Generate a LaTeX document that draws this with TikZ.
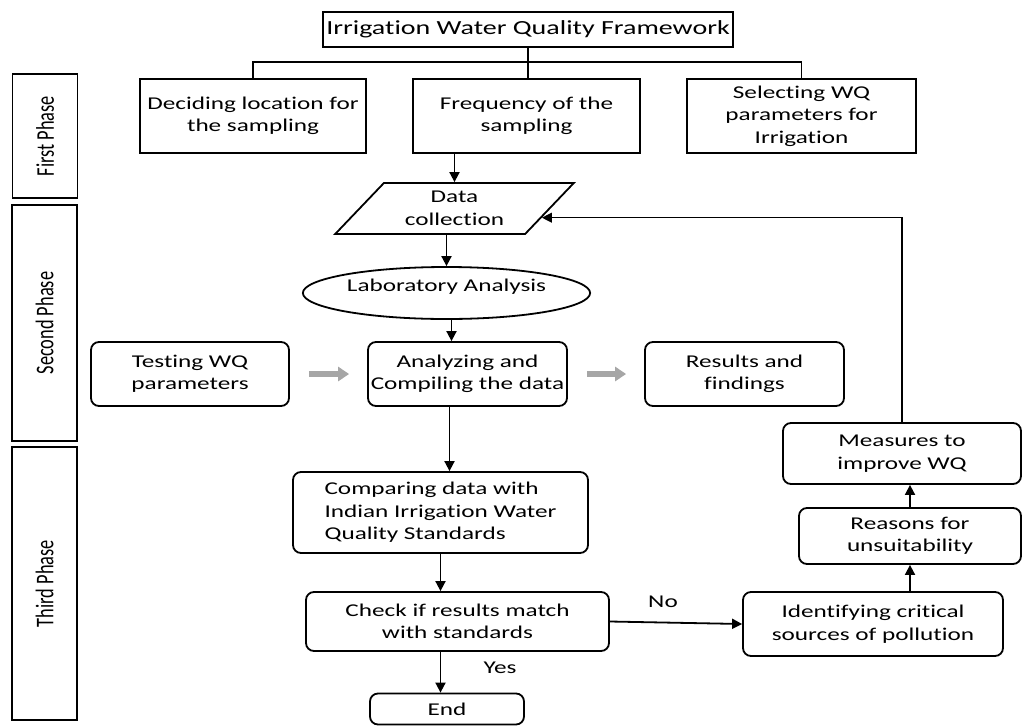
\documentclass[tikz,border=0pt]{standalone}
\usepackage{fontspec}
\setmainfont[FakeStretch=1.4, Ligatures=NoCommon]{Carlito}
\newfontfamily\phasefont[FakeStretch=0.72, Ligatures=NoCommon]{Carlito}
\usetikzlibrary{shapes.geometric,arrows.meta}

\begin{document}
\begin{tikzpicture}[x=1pt, y=-1pt, line width=1.8pt,
    box/.style = {draw, align=center, inner sep=2pt, font=\fontsize{18}{22.5}\selectfont},
    rbox/.style = {box, rounded corners=8pt},
    phase/.style = {draw, line width=1.1pt, minimum width=65pt, font=\phasefont\fontsize{25.5}{27}\selectfont},
    arr/.style = {-{Triangle[length=10pt,width=10pt]}},
    grayarr/.style = {draw=black!35, line width=6pt, -{Triangle[length=11pt,width=14pt]}},
    lbl/.style = {font=\fontsize{18}{20}\selectfont}]

	\useasboundingbox (0,0) rectangle (1022,726);

	% phases
	\node[phase, minimum height=124pt] (first) at (45,136) {\rotatebox{90}{First Phase}};
	\node[phase, minimum height=236pt] (second) at (44.5,323) {\rotatebox{90}{Second Phase}};
	\node[phase, minimum height=273pt] (third) at (44.5,583.5) {\rotatebox{90}{Third Phase}};

	% first phase
	\node[box, font=\fontsize{20}{24}\selectfont, minimum width=410pt, minimum height=35pt] (title) at (528,29.5) {Irrigation Water Quality Framework};
	\node[box, minimum width=226pt, minimum height=74pt] (loc) at (253,116) {Deciding location for\\the sampling};
	\node[box, minimum width=227pt, minimum height=74pt] (freq) at (526.5,116) {Frequency of the\\sampling};
	\node[box, minimum width=229pt, minimum height=74pt] (sel) at (801.5,116) {Selecting WQ\\parameters for\\Irrigation};

	% second phase
	\node[box, trapezium, trapezium left angle=47, trapezium right angle=133, trapezium stretches=true,
		minimum width=239pt, minimum height=51pt] (data) at (454.5,208.5) {Data\\collection};
	\node[box, ellipse, minimum width=261pt, minimum height=52pt] (lab) at (446.5,293) {\raisebox{6pt}[12pt][4pt]{Laboratory Analysis}};
	\node[rbox, minimum width=198pt, minimum height=64pt] (test) at (190,374) {Testing WQ\\parameters};
	\node[rbox, minimum width=199pt, minimum height=64pt] (anal) at (467.5,374) {Analyzing and\\Compiling the data};
	\node[rbox, minimum width=199pt, minimum height=64pt] (res) at (744.5,374) {Results and\\findings};

	% third phase
	\node[rbox, align=left, minimum width=295pt, minimum height=81pt] (comp) at (440.5,512.5) {Comparing data with\\Indian Irrigation Water\\Quality Standards};
	\node[rbox, minimum width=303pt, minimum height=59pt] (check) at (457.5,621.5) {Check if results match\\with standards};
	\node[rbox, minimum width=154pt, minimum height=31pt] (endn) at (447,709) {End};
	\node[rbox, minimum width=260pt, minimum height=64pt] (ident) at (873,624) {Identifying critical\\sources of pollution};
	\node[rbox, minimum width=222pt, minimum height=56pt] (reas) at (910,536) {Reasons for\\unsuitability};
	\node[rbox, minimum width=238pt, minimum height=61pt] (meas) at (902,453.5) {Measures to\\improve WQ};

	\node[lbl] (no) at (663,602) {No};
	\node[lbl] (yes) at (500,668) {Yes};

	% connectors
	\draw (title.south) -- (title.south |- freq.north);
	\draw (loc.north) -- ++(0,-16) -| (sel.north);
	\draw[arr] (freq.south -| data.north) -- (data.north);
	\draw[arr] (lab.north |- data.south) -- (lab.north);
	\draw[arr] ([xshift=5pt]lab.south) -- ([xshift=5pt]lab.south |- anal.north);
	\draw[grayarr, shorten <=19pt, shorten >=18pt] (test.east) -- (anal.west);
	\draw[grayarr, shorten <=19pt, shorten >=18pt] (anal.east) -- (res.west);
	\draw[arr] ([xshift=-18pt]anal.south) -- ([xshift=-18pt]anal.south |- comp.north);
	\draw[arr] (comp.south) -- (comp.south |- check.north);
	\draw[arr] (comp.south |- check.south) -- (comp.south |- endn.north);
	\draw[arr] (check.east) -- (ident.west);
	\draw[arr] (reas.south |- ident.north) -- (reas.south);
	\draw[arr] (reas.north) -- (reas.north |- meas.south);
	\draw[arr, line width=1.1pt] (meas.north) |- (data.-6);
\end{tikzpicture}
\end{document}
